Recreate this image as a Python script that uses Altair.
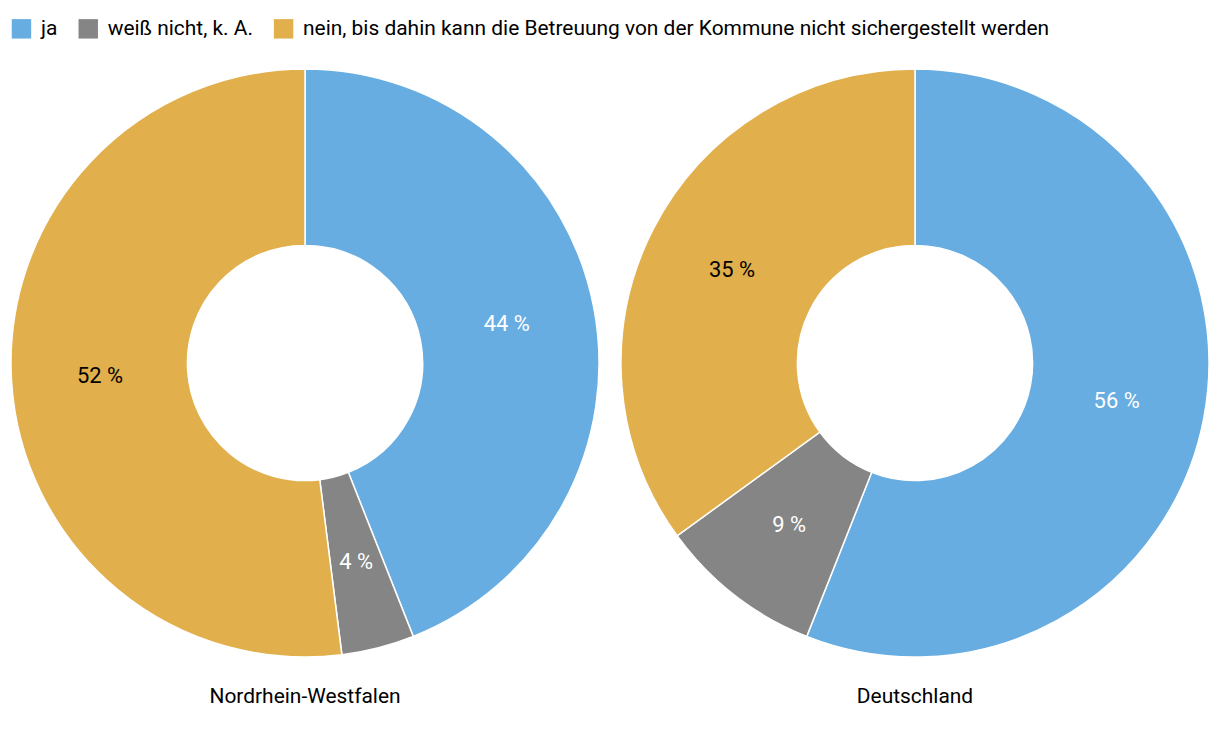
import altair as alt
import pandas as pd

regions = ["Nordrhein-Westfalen", "Deutschland"]
categories = ["ja", "weiß nicht, k. A.",
              "nein, bis dahin kann die Betreuung von der Kommune nicht sichergestellt werden"]
nrw_values = [44, 4, 52]
de_values = [56, 9, 35]
colors = ["#67ADE1", "#858585", "#E1AF4B"]
label_colors = ["white", "white", "black"]

FONT = "Roboto"

def panel(region, values):
    df = pd.DataFrame({
        "cat": categories,
        "value": values,
        "order": list(range(len(categories))),
        "label": [f"{v} %" for v in values],
        "tcolor": label_colors,
    })
    base = alt.Chart(df).encode(
        theta=alt.Theta("value:Q", stack=True),
        order=alt.Order("order:Q"),
    )
    arcs = base.mark_arc(outerRadius=295, innerRadius=118, stroke="white", strokeWidth=1.5).encode(
        color=alt.Color("cat:N", scale=alt.Scale(domain=categories, range=colors),
                        sort=categories, title=None),
    )
    text = base.mark_text(radius=206, fontSize=22, font=FONT).encode(
        text="label:N",
        color=alt.Color("tcolor:N", scale=None),
    )
    return alt.layer(arcs, text).properties(
        width=594, height=594,
        title=alt.TitleParams(text=region, orient="bottom", fontSize=21, font=FONT,
                              fontWeight="normal", color="black", offset=26),
    )

chart = alt.hconcat(panel(regions[0], nrw_values), panel(regions[1], de_values), spacing=16).resolve_scale(
    color="shared"
).configure(padding={"top": 7, "left": 0, "right": 0, "bottom": 0}).configure_view(stroke=None).configure_legend(
    orient="top", direction="horizontal", symbolType="square", symbolSize=380,
    symbolStrokeWidth=0, labelFontSize=21, labelFont=FONT, labelColor="black",
    labelLimit=1000, columnPadding=20, labelOffset=9, offset=25, padding=2,
)

chart.save("out.html", embed_options={"renderer": "svg", "actions": False})
